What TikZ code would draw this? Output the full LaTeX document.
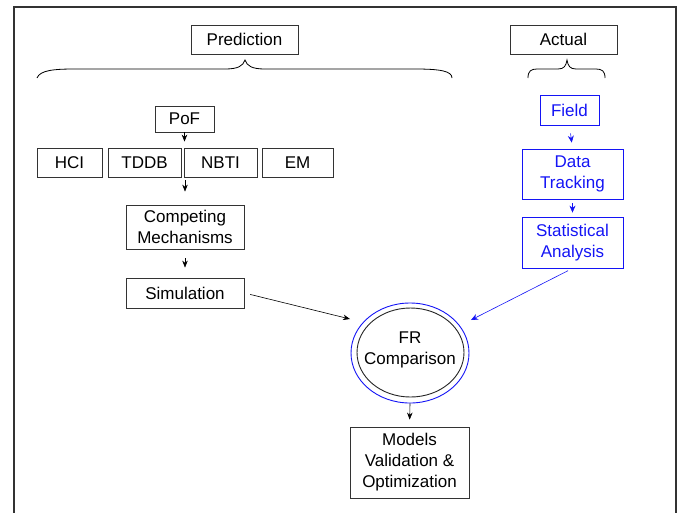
\documentclass[tikz,border=0pt]{standalone}
\usepackage{fontspec}
\setmainfont{Liberation Sans}
\usetikzlibrary{arrows.meta,shapes.geometric}
\definecolor{myblue}{RGB}{20,20,245}
\tikzset{
  box/.style={draw=black!80, line width=0.8pt, inner sep=0pt, align=center,
    font=\fontsize{17}{21}\selectfont},
  bbox/.style={box, draw=myblue, text=myblue},
  arr/.style={line width=0.6pt, -{Stealth[length=7pt,width=5.5pt]}},
  barr/.style={arr, draw=myblue, -{Stealth[length=7pt,width=6pt,color=myblue]}},
  brace/.style={line width=0.8pt, draw=black},
  ell/.style={ellipse, line width=0.9pt, inner sep=0pt}
}
\begin{document}
\begin{tikzpicture}[x=1pt,y=-1pt]
\useasboundingbox (0,0) rectangle (682,512);
% frame
\draw[black!80, line width=1.2pt] (14,513) -- (14,7) -- (676,7) -- (676,513);

% top labels
\node[box, minimum width=107pt, minimum height=29pt] (pred) at (244.5,39.5) {Prediction};
\node[box, minimum width=107pt, minimum height=29pt] (act) at (563.5,39.5) {Actual};

% braces
\draw[brace] (37,78) .. controls (40,70) and (55,69) .. (75,69) -- (225,69)
  .. controls (238,69) and (243,66) .. (245,60)
  .. controls (247,66) and (252,69) .. (265,69) -- (415,69)
  .. controls (440,69) and (452,71) .. (452,78);
\draw[brace] (528,78) .. controls (528,71) and (531,69) .. (537,69) -- (558,69)
  .. controls (564,69) and (566,66) .. (567,60)
  .. controls (568,66) and (570,69) .. (576,69) -- (596,69)
  .. controls (602,69) and (605,71) .. (605,78);

% prediction branch
\node[box, minimum width=59pt, minimum height=26pt] (pof) at (184.5,119) {PoF};
\node[box, minimum width=65pt, minimum height=29pt] (hci) at (69.5,162.5) {HCI};
\node[box, minimum width=73pt, minimum height=29pt] (tddb) at (144.5,162.5) {TDDB};
\node[box, minimum width=73pt, minimum height=29pt] (nbti) at (220.5,162.5) {NBTI};
\node[box, minimum width=71pt, minimum height=29pt] (em) at (297.5,162.5) {EM};
\node[box, minimum width=118pt, minimum height=44pt] (cm) at (185,227) {Competing\\Mechanisms};
\node[box, minimum width=118pt, minimum height=30pt] (sim) at (185,293) {Simulation};

% actual branch
\node[bbox, minimum width=59pt, minimum height=30pt] (field) at (569.5,110) {Field};
\node[bbox, minimum width=101pt, minimum height=50pt] (dt) at (572.5,174) {Data\\Tracking};
\node[bbox, minimum width=101pt, minimum height=51pt] (stat) at (572.5,242.5) {Statistical\\Analysis};

% comparison
\node[ell, draw=myblue, minimum width=118pt, minimum height=100pt] (fr) at (410,353) {};
\node[ell, draw=black!85, minimum width=107pt, minimum height=89pt] (frin) at (410.5,352.5) {};
\node[align=center, inner sep=0pt, font=\fontsize{17}{21}\selectfont] (frtxt) at (410,350) {FR\\Comparison};
\node[box, minimum width=119pt, minimum height=71pt] (mod) at (409.5,462.5) {Models\\Validation \&\\Optimization};

\coordinate (simend) at (350,319);
\coordinate (statend) at (471,320);

% connectors
\draw[arr, shorten >=6pt] (pof.south) -- (pof.south |- nbti.north);
\draw[arr, shorten <=3pt, shorten >=13pt] (cm.north |- nbti.south) -- (cm.north);
\draw[arr, shorten <=9pt, shorten >=10pt] (cm.south) -- (sim.north);
\draw[arr, shorten <=6pt] (sim.east) -- (simend);
\draw[barr, shorten <=8pt, shorten >=6pt] (field.south) -- (dt.north);
\draw[barr, shorten <=4pt, shorten >=4pt] (dt.south) -- (stat.north);
\draw[barr, shorten <=5pt] (stat.south) -- (statend);
\draw[arr, shorten >=7pt] (fr.south) -- (mod.north);
\end{tikzpicture}
\end{document}
